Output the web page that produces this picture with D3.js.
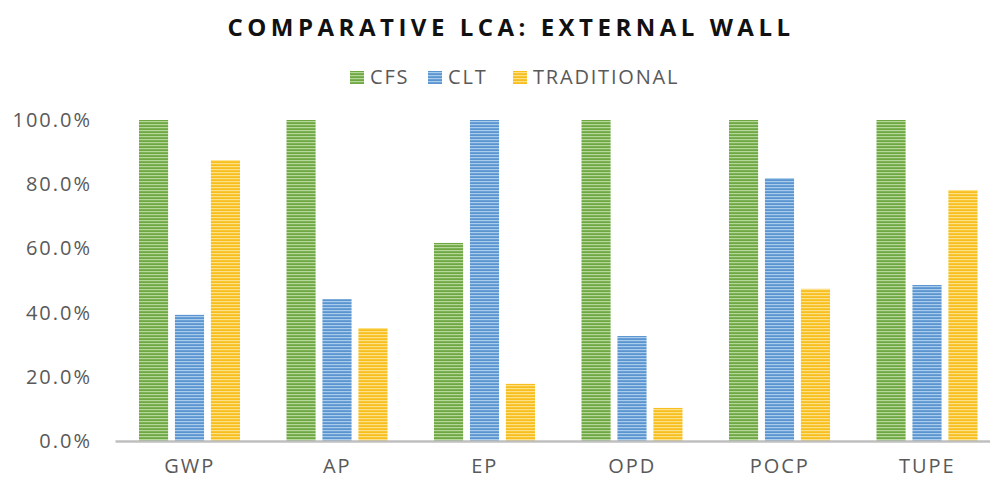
<!DOCTYPE html>
<html>
<head>
<meta charset="utf-8">
<script src="https://d3js.org/d3.v7.min.js"></script>
<style>
  body { margin: 0; background: #fff; }
  text { font-family: "Open Sans", "Noto Sans", sans-serif; }
</style>
</head>
<body>
<svg id="chart" width="990" height="480"></svg>
<script>
var categories = ["GWP", "AP", "EP", "OPD", "POCP", "TUPE"];
var series = ["CFS", "CLT", "TRADITIONAL"];
var cfs = [1.0, 1.0, 0.617, 1.0, 1.0, 1.0];
var clt = [0.393, 0.442, 1.0, 0.327, 0.819, 0.486];
var traditional = [0.875, 0.352, 0.178, 0.103, 0.474, 0.782];
var yTicks = [0, 0.2, 0.4, 0.6, 0.8, 1.0];

var colors = {CFS: ["#6fa843", "#b5d89a"], CLT: ["#5a95d0", "#a9cbec"], TRADITIONAL: ["#f7be1d", "#fde189"]};

var svg = d3.select("#chart");
var margin = {top: 120, right: -10, bottom: 39, left: 115};
var w = 990, h = 480;

var x = d3.scaleBand().domain(categories).range([margin.left, w - margin.right]);
var xs = d3.scaleBand().domain(series).range([24, 24 + 101]).paddingInner(0.19);
var y = d3.scaleLinear().domain([0, 1]).range([h - margin.bottom, margin.top]);

// striped fills
var defs = svg.append("defs");
series.forEach(function(s, i) {
  var p = defs.append("pattern")
    .attr("id", "pat" + i)
    .attr("patternUnits", "userSpaceOnUse")
    .attr("width", 8).attr("height", 3);
  p.append("rect").attr("width", 8).attr("height", 3).attr("fill", colors[s][0]);
  p.append("rect").attr("y", 1).attr("width", 8).attr("height", 1.2).attr("fill", colors[s][1]);
});

svg.append("text")
  .attr("x", 511).attr("y", 36)
  .attr("text-anchor", "middle")
  .attr("font-size", 24).attr("font-weight", "bold")
  .attr("letter-spacing", 4.5)
  .attr("fill", "#111")
  .text("COMPARATIVE LCA: EXTERNAL WALL");

// legend
var legendX = [350, 428, 513];
var legend = svg.append("g");
series.forEach(function(s, i) {
  var g = legend.append("g").attr("transform", "translate(" + legendX[i] + ",71)");
  g.append("rect").attr("width", 14).attr("height", 13).attr("fill", "url(#pat" + i + ")");
  g.append("text").attr("x", 20).attr("y", 13).attr("font-size", 20)
    .attr("letter-spacing", 1.8).attr("fill", "#595959").text(s);
});

// y axis labels
svg.append("g")
  .attr("transform", "translate(" + (margin.left - 23) + ",0)")
  .call(d3.axisLeft(y).tickValues(yTicks).tickFormat(d3.format(".1%")).tickSize(0))
  .call(function(g) { g.select(".domain").remove(); })
  .selectAll("text")
  .attr("font-size", 20).attr("letter-spacing", 2).attr("fill", "#595959").attr("x", 0);

var data = categories.map(function(c, i) {
  return {cat: c, vals: [cfs[i], clt[i], traditional[i]]};
});

var groups = svg.append("g").selectAll("g")
  .data(data).enter().append("g")
  .attr("transform", function(d) { return "translate(" + x(d.cat) + ",0)"; });

groups.selectAll("rect")
  .data(function(d) { return d.vals.map(function(v, i) { return {s: series[i], i: i, v: v}; }); })
  .enter().append("rect")
  .attr("x", function(d) { return xs(d.s); })
  .attr("width", xs.bandwidth())
  .attr("y", function(d) { return y(d.v); })
  .attr("height", function(d) { return y(0) - y(d.v); })
  .attr("fill", function(d) { return "url(#pat" + d.i + ")"; });

// x axis
var xAxis = svg.append("g")
  .attr("transform", "translate(0," + y(0) + ")")
  .call(d3.axisBottom(x).tickSize(0).tickPadding(18));
xAxis.select(".domain").attr("stroke", "#bfbfbf").attr("stroke-width", 2.5);
xAxis.selectAll("text").attr("font-size", 20).attr("letter-spacing", 2).attr("dx", 1).attr("fill", "#595959");
</script>
</body>
</html>
